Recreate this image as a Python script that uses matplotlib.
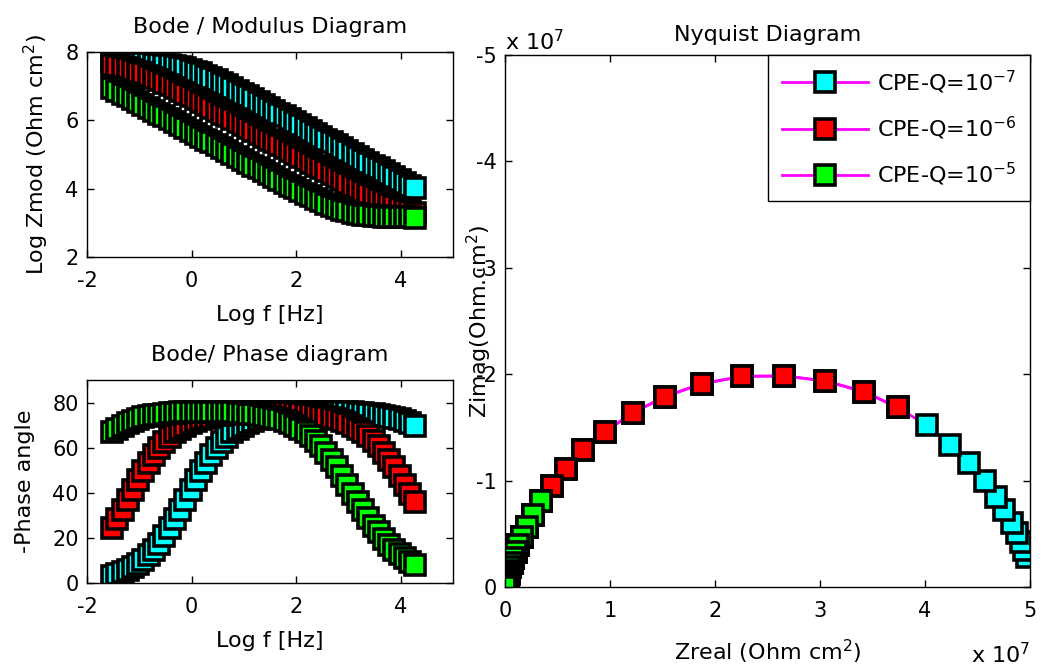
import numpy as np
import matplotlib
matplotlib.use('Agg')
import matplotlib.pyplot as plt
from matplotlib.ticker import FuncFormatter

# -----------------------------
# Data
# -----------------------------
log_f = [-1.52, -1.42, -1.32, -1.22, -1.12, -1.02, -0.92, -0.82, -0.72, -0.62,
         -0.52, -0.42, -0.32, -0.22, -0.12, -0.02, 0.08, 0.18, 0.28, 0.38,
         0.48, 0.58, 0.68, 0.78, 0.88, 0.98, 1.08, 1.18, 1.28, 1.38,
         1.48, 1.58, 1.68, 1.78, 1.88, 1.98, 2.08, 2.18, 2.28, 2.38,
         2.48, 2.58, 2.68, 2.78, 2.88, 2.98, 3.08, 3.18, 3.28, 3.38,
         3.48, 3.58, 3.68, 3.78, 3.88, 3.98, 4.08, 4.18, 4.28]

# log10 |Z| (Ohm cm2)
logz_q7 = [7.697, 7.695, 7.693, 7.690, 7.687, 7.682, 7.677, 7.670, 7.660, 7.648,
           7.633, 7.613, 7.589, 7.558, 7.521, 7.478, 7.428, 7.371, 7.309, 7.242,
           7.172, 7.098, 7.021, 6.943, 6.863, 6.782, 6.700, 6.617, 6.534, 6.450,
           6.367, 6.283, 6.198, 6.114, 6.030, 5.945, 5.860, 5.776, 5.691, 5.606,
           5.521, 5.437, 5.352, 5.267, 5.182, 5.098, 5.013, 4.929, 4.844, 4.760,
           4.675, 4.591, 4.507, 4.423, 4.339, 4.256, 4.174, 4.091, 4.010]
logz_q6 = [7.613, 7.589, 7.558, 7.521, 7.478, 7.428, 7.371, 7.309, 7.242, 7.172,
           7.098, 7.021, 6.943, 6.863, 6.782, 6.700, 6.617, 6.534, 6.450, 6.367,
           6.283, 6.198, 6.114, 6.030, 5.945, 5.860, 5.776, 5.691, 5.606, 5.521,
           5.437, 5.352, 5.267, 5.182, 5.098, 5.013, 4.929, 4.844, 4.760, 4.675,
           4.591, 4.507, 4.423, 4.339, 4.256, 4.174, 4.091, 4.010, 3.930, 3.851,
           3.774, 3.699, 3.628, 3.559, 3.496, 3.438, 3.386, 3.340, 3.301]
logz_q5 = [6.942, 6.863, 6.782, 6.700, 6.617, 6.534, 6.450, 6.367, 6.283, 6.198,
           6.114, 6.030, 5.945, 5.860, 5.776, 5.692, 5.607, 5.522, 5.437, 5.352,
           5.267, 5.182, 5.098, 5.013, 4.929, 4.844, 4.760, 4.675, 4.591, 4.507,
           4.423, 4.339, 4.256, 4.174, 4.091, 4.010, 3.930, 3.851, 3.774, 3.699,
           3.628, 3.559, 3.496, 3.438, 3.386, 3.340, 3.301, 3.269, 3.243, 3.222,
           3.205, 3.192, 3.182, 3.175, 3.169, 3.164, 3.160, 3.157, 3.155]

# -phase angle (deg)
phase_q7 = [3.3, 4.0, 4.9, 5.9, 7.1, 8.6, 10.3, 12.3, 14.8, 17.5,
            20.7, 24.3, 28.2, 32.4, 36.7, 41.2, 45.5, 49.6, 53.4, 56.8,
            59.9, 62.5, 64.8, 66.8, 68.4, 69.8, 71.0, 71.9, 72.6, 73.3,
            73.8, 74.3, 74.7, 75.0, 75.2, 75.4, 75.6, 75.7, 75.8, 75.9,
            75.9, 75.9, 75.9, 75.9, 75.8, 75.7, 75.6, 75.5, 75.3, 75.1,
            74.9, 74.6, 74.2, 73.7, 73.2, 72.5, 71.8, 70.8, 69.7]
phase_q6 = [24.3, 28.2, 32.4, 36.7, 41.2, 45.5, 49.6, 53.4, 56.8, 59.9,
            62.5, 64.8, 66.8, 68.4, 69.8, 71.0, 71.9, 72.6, 73.3, 73.8,
            74.3, 74.7, 75.0, 75.2, 75.4, 75.6, 75.7, 75.8, 75.8, 75.8,
            75.8, 75.8, 75.8, 75.7, 75.6, 75.5, 75.3, 75.1, 74.9, 74.5,
            74.2, 73.7, 73.2, 72.5, 71.8, 70.8, 69.7, 68.4, 66.9, 65.1,
            63.0, 60.6, 57.8, 54.7, 51.3, 47.5, 43.5, 39.4, 35.7]
phase_q5 = [66.8, 68.4, 69.8, 71.0, 71.9, 72.7, 73.4, 73.9, 74.3, 74.7,
            75.0, 75.2, 75.4, 75.6, 75.7, 75.8, 75.9, 75.9, 75.9, 75.9,
            75.9, 75.8, 75.7, 75.6, 75.5, 75.3, 75.1, 74.9, 74.6, 74.2,
            73.8, 73.2, 72.5, 71.8, 70.9, 69.7, 68.4, 66.9, 65.1, 63.0,
            60.6, 57.8, 54.7, 51.3, 47.5, 43.5, 39.4, 35.7, 32.2, 28.7,
            25.4, 22.4, 19.6, 17.0, 14.8, 12.8, 11.0, 9.5, 8.1]

labels = ['CPE-Q=10$^{-7}$', 'CPE-Q=10$^{-6}$', 'CPE-Q=10$^{-5}$']
colors = ['#00ffff', '#ff0000', '#00ff00']
logz_all = [logz_q7, logz_q6, logz_q5]
phase_all = [phase_q7, phase_q6, phase_q5]

# -----------------------------
# Style
# -----------------------------
plt.rcParams['font.family'] = ['DejaVu Sans']
plt.rcParams['mathtext.default'] = 'regular'
plt.rcParams['axes.unicode_minus'] = False
plt.rcParams['font.size'] = 16
plt.rcParams['xtick.labelsize'] = 15
plt.rcParams['ytick.labelsize'] = 15

fig = plt.figure(figsize=(10.47, 6.70), dpi=100)
ax1 = fig.add_axes([0.0831, 0.6164, 0.3496, 0.3060])
ax2 = fig.add_axes([0.0831, 0.1299, 0.3496, 0.3029])
ax3 = fig.add_axes([0.4823, 0.1239, 0.5015, 0.7940])

ms = 14.3
mew = 2.6

for logz, ph, col, lab in zip(logz_all, phase_all, colors, labels):
    logz = np.array(logz)
    ph = np.array(ph)
    zmod = 10.0 ** logz
    zre = zmod * np.cos(np.radians(ph))
    zim = -zmod * np.sin(np.radians(ph))
    ax1.plot(log_f, logz, ls='none', marker='s', ms=ms, mfc=col, mec='k', mew=mew)
    ax2.plot(log_f, ph, ls='none', marker='s', ms=ms, mfc=col, mec='k', mew=mew)
    ax3.plot(zre, zim, '-', color='#ff00ff', lw=2.0, marker='s', ms=ms,
             mfc=col, mec='k', mew=mew, label=lab)

for ax in (ax1, ax2, ax3):
    ax.tick_params(direction='in', top=True, right=True, length=5, width=1)
    ax.tick_params(axis='x', pad=10)
    ax.tick_params(axis='y', pad=6)
    for s in ax.spines.values():
        s.set_linewidth(1.0)

# Bode modulus
ax1.set_xlim(-2, 5)
ax1.set_ylim(2, 8)
ax1.set_xticks([-2, 0, 2, 4])
ax1.set_yticks([2, 4, 6, 8])
ax1.set_title('Bode / Modulus Diagram', fontsize=16, pad=14)
ax1.set_xlabel('Log f [Hz]', labelpad=10)
ax1.set_ylabel('Log Zmod (Ohm cm$^2$)', labelpad=10)

# Bode phase
ax2.set_xlim(-2, 5)
ax2.set_ylim(0, 90)
ax2.set_xticks([-2, 0, 2, 4])
ax2.set_yticks([0, 20, 40, 60, 80])
ax2.set_title('Bode/ Phase diagram', fontsize=16, pad=14)
ax2.set_xlabel('Log f [Hz]', labelpad=10)
ax2.set_ylabel('-Phase angle', labelpad=12)

# Nyquist
ax3.set_xlim(0, 5e7)
ax3.set_ylim(0, -5e7)
ax3.set_xticks(np.arange(0, 6) * 1e7)
ax3.set_yticks(-np.arange(0, 6) * 1e7)
fmt = FuncFormatter(lambda v, p: '%g' % (v / 1e7))
ax3.xaxis.set_major_formatter(fmt)
ax3.yaxis.set_major_formatter(fmt)
ax3.set_title('Nyquist Diagram', fontsize=16, pad=10)
ax3.set_xlabel('Zreal (Ohm cm$^2$)', labelpad=12)
ax3.set_ylabel('Zimag(Ohm.cm$^2$)')
ax3.yaxis.set_label_coords(-0.021, 0.5)
fig.text(505 / 1047, 1 - 50 / 670, 'x 10$^7$', ha='left', va='baseline')
fig.text(1030 / 1047, 1 - 663 / 670, 'x 10$^7$', ha='right', va='baseline')

leg = ax3.legend(loc='upper right', fancybox=False, edgecolor='k', framealpha=1,
                 borderaxespad=0, handlelength=3.9, handletextpad=0.4,
                 labelspacing=0.85, borderpad=0.6)
leg.get_frame().set_linewidth(1.0)

fig.savefig('out.png', dpi=100)
